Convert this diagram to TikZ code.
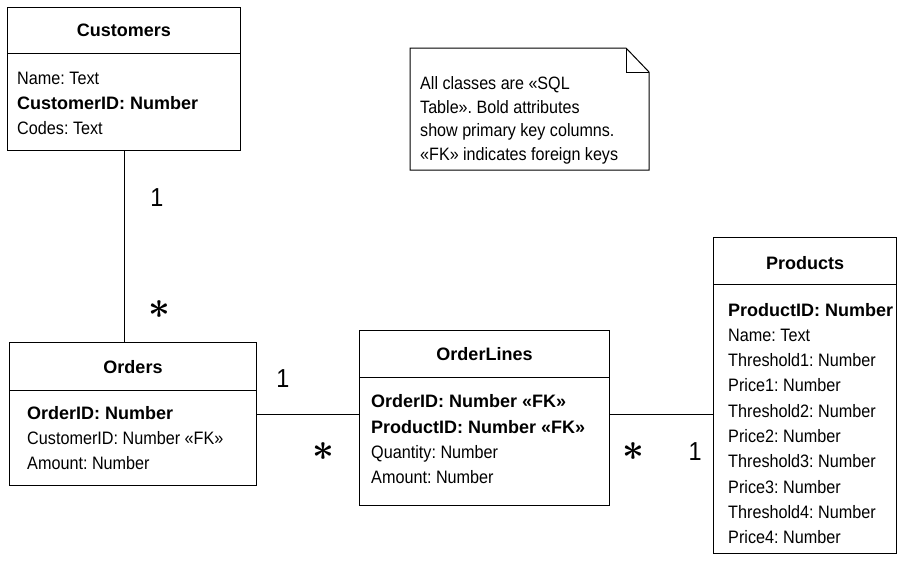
\documentclass[tikz,border=0pt]{standalone}
\usepackage{fix-cm}
\usepackage{bm}
\usepackage{fontspec}
\setmainfont{Liberation Sans}[FakeStretch=0.9,BoldFeatures={FakeStretch=1.0}]
\usetikzlibrary{positioning,calc}
\tikzset{
  cls/.style   ={draw, line width=1pt, anchor=north west, inner sep=0pt},
  ttl/.style   ={font=\fontsize{18}{20}\selectfont\bfseries, inner sep=0pt},
  attrs/.style ={anchor=west, align=left, inner sep=0pt, font=\fontsize{18}{25.3}\selectfont},
  notetxt/.style={anchor=west, align=left, inner sep=0pt, font=\fontsize{17.9}{23.7}\selectfont},
  mult/.style  ={font=\fontsize{26}{26}\selectfont, inner sep=0pt},
  many/.style  ={font=\fontsize{38}{38}\selectfont, inner sep=0pt},
  sep/.style   ={line width=1pt},
  link/.style  ={line width=0.8pt},
}
\begin{document}
\frenchspacing
\begin{tikzpicture}[x=1pt,y=-1pt]
\useasboundingbox (0,0) rectangle (901,562);
% classes
\node[cls,minimum width=233pt,minimum height=143pt] (cust) at (7,7) {};
\node[ttl] (custT) at (cust.north |- 0,30) {Customers};
\draw[sep] (cust.west |- 0,53) -- (cust.east |- 0,53);
\node[attrs] (custA) at (17,103.5) {Name: Text\\ \textbf{CustomerID: Number}\\ Codes: Text};

\node[cls,minimum width=247pt,minimum height=143pt] (ord) at (9,342) {};
\node[ttl] (ordT) at (ord.north |- 0,367) {Orders};
\draw[sep] (ord.west |- 0,390) -- (ord.east |- 0,390);
\node[attrs] (ordA) at (27,438) {\textbf{OrderID: Number}\\ CustomerID: Number «FK»\\ Amount: Number};

\node[cls,minimum width=250pt,minimum height=175pt] (ol) at (359,330) {};
\node[ttl] (olT) at (ol.north |- 0,354) {OrderLines};
\draw[sep] (ol.west |- 0,377) -- (ol.east |- 0,377);
\node[attrs] (olA) at (371,439.5) {\textbf{OrderID: Number «FK»}\\ \textbf{ProductID: Number «FK»}\\ Quantity: Number\\ Amount: Number};

\node[cls,minimum width=183pt,minimum height=316pt] (prod) at (713,237) {};
\node[ttl] (prodT) at (prod.north |- 0,263) {Products};
\draw[sep] (prod.west |- 0,284) -- (prod.east |- 0,284);
\node[attrs] (prodA) at (728,423.5) {\textbf{ProductID: Number}\\ Name: Text\\ Threshold1: Number\\ Price1: Number\\
  Threshold2: Number\\ Price2: Number\\ Threshold3: Number\\ Price3: Number\\ Threshold4: Number\\ Price4: Number};

% note
\node[notetxt] (note) at (420,120.5) {All classes are «SQL\\ Table». Bold attributes\\ show primary key columns.\\ «FK» indicates foreign keys};
\draw[sep] (410,48) -- (626,48) -- (649,72) -- (649,170) -- (410,170) -- cycle;
\draw[sep] (626,48) -- (626,72) -- (649,72);

% associations
\draw[link] (cust.south -| 124,0) -- (ord.north -| 124,0);
\draw[link] (ord.east) -- (ol.west |- ord.east);
\draw[link] (ol.east |- ord.east) -- (prod.west |- ord.east);

\node[mult] (m1) at (157,198) {1};
\node[many] (m2) at (159,310) {$\bm{\ast}$};
\node[mult] (m3) at (283,379) {1};
\node[many] (m4) at (323,452) {$\bm{\ast}$};
\node[many] (m5) at (633,452) {$\bm{\ast}$};
\node[mult] (m6) at (695,452) {1};
\end{tikzpicture}
\end{document}
